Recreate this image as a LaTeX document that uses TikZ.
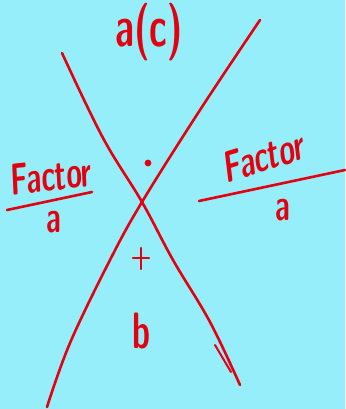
\documentclass[tikz,border=0pt]{standalone}
\usepackage{tikz}
\usetikzlibrary{positioning}
\definecolor{sky}{HTML}{96EEFA}
\definecolor{pen}{HTML}{E3000F}

\begin{document}
\begin{tikzpicture}[x=1pt, y=-1pt,
      stroke/.style={draw=pen, line width=2.6pt, line cap=round, line join=round},
      ink/.style={text=pen, inner sep=0pt, font=\sffamily\bfseries\fontsize{28}{28}\selectfont,
                  yscale=1.6, transform shape}]

    % background, 345 x 409
    \fill[sky] (0,0) rectangle (345,409);
    \useasboundingbox (0,0) rectangle (345,409);

    % the two crossing strokes
    \coordinate (ltop) at (62,53);
    \coordinate (rbot) at (240,385);
    \coordinate (rtop) at (260,20);
    \coordinate (lbot) at (47,407);
    \draw[stroke] plot[smooth, tension=0.6] coordinates
        {(ltop) (103,138) (142,202) (173,260) (210,322) (rbot)};
    \draw[stroke] plot[smooth, tension=0.6] coordinates
        {(rtop) (200,110) (142,202) (110,260) (70,343) (lbot)};
    % small second stroke near the lower end
    \draw[stroke, line width=2pt] (215,345) -- (231,372);

    % labels
    \node[ink, font=\sffamily\bfseries\fontsize{36}{36}\selectfont] (top) at (149,32) {a(c)};
    \node[ink, font=\sffamily\bfseries\fontsize{32}{32}\selectfont] (bot) at (141,331) {b};
    \coordinate (plus) at (141,258);
    \draw[stroke, line width=2.2pt] ([xshift=-8pt]plus) -- ([xshift=8pt]plus);
    \draw[stroke, line width=2.2pt] ([yshift=10pt]plus) -- ([yshift=-11pt]plus);
    \fill[pen] (148,163) circle (3.4);

    % left fraction
    \node[ink, anchor=south west, rotate=4] (lnum) at (11,196) {Factor};
    \draw[stroke] (7,210) -- (92,192);
    \node[ink] (lden) at (54,222) {a};

    % right fraction
    \node[ink, anchor=south west, rotate=11] (rnum) at (226,184) {Factor};
    \draw[stroke] (199,201) -- (345,170);
    \node[ink] (rden) at (283,210) {a};

\end{tikzpicture}
\end{document}
